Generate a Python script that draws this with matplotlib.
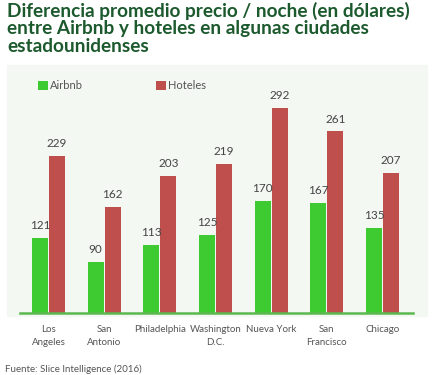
import matplotlib
matplotlib.use("Agg")
import matplotlib.pyplot as plt
import numpy as np
from matplotlib.patches import Rectangle

cities = ["Los\nAngeles", "San\nAntonio", "Philadelphia", "Washington\nD.C.",
          "Nueva York", "San\nFrancisco", "Chicago"]
airbnb = [121, 90, 113, 125, 170, 167, 135]
hoteles = [229, 162, 203, 219, 292, 261, 207]

title_lines = ["Diferencia promedio precio / noche (en dólares)",
               "entre Airbnb y hoteles en algunas ciudades",
               "estadounidenses"]
source = "Fuente: Slice Intelligence (2016)"

GREEN = "#3ecb31"
RED = "#bf4f4c"
TXT = "#555555"
TITLE = "#1c5a2e"

plt.rcParams["font.family"] = ["Lato", "DejaVu Sans"]

W, H = 448, 375
fig = plt.figure(figsize=(W / 100, H / 100), dpi=100)

# light panel behind the chart
fig.patches.append(Rectangle((7 / W, 1 - 316 / H), 420 / W, 251 / H,
                             transform=fig.transFigure, color="#f3f8f3", zorder=-1))

ax = fig.add_axes([20 / W, 1 - 313 / H, 393 / W, 243 / H])
ax.patch.set_alpha(0)

x = np.arange(len(cities))
w = 0.288
off = 0.153
b1 = ax.bar(x - off, airbnb, w, color=GREEN, label="Airbnb")
b2 = ax.bar(x + off, hoteles, w, color=RED, label="Hoteles")

for bars, vals in ((b1, airbnb), (b2, hoteles)):
    for r, v in zip(bars, vals):
        ax.annotate(str(v), (r.get_x() + r.get_width() / 2, v), xytext=(0, 5),
                    textcoords="offset points", ha="center", va="bottom",
                    fontsize=8.5, color="#444444")

# the original bars don't start at zero, so the baseline sits above it
ax.set_xlim(-0.512, 6.548)
ax.set_ylim(23.4, 341.5)
ax.set_xticks(x)
ax.set_xticklabels(cities, fontsize=7, color=TXT, linespacing=1.55)
ax.tick_params(axis="x", length=0, pad=9)
ax.set_yticks([])
for s in ["top", "right", "left"]:
    ax.spines[s].set_visible(False)
ax.spines["bottom"].set_color("#5cb850")
ax.spines["bottom"].set_linewidth(1.8)

ax.legend(handles=[b1, b2], loc="upper left", bbox_to_anchor=(38 / W, 1 - 80 / H),
          bbox_transform=fig.transFigure, ncol=2, frameon=False, fontsize=8,
          handlelength=0.9, handleheight=0.9, handletextpad=0.15,
          columnspacing=6.6, borderaxespad=0, borderpad=0, labelcolor=TXT)

for i, line in enumerate(title_lines):
    fig.text(7 / W, 1 - (17 + 17.3 * i) / H, line, fontsize=13.7, fontweight="bold",
             color=TITLE, ha="left", va="baseline")

fig.text(5 / W, 1 - 372 / H, source, fontsize=7, color=TXT, ha="left", va="baseline")

fig.savefig("out.png", dpi=100)
